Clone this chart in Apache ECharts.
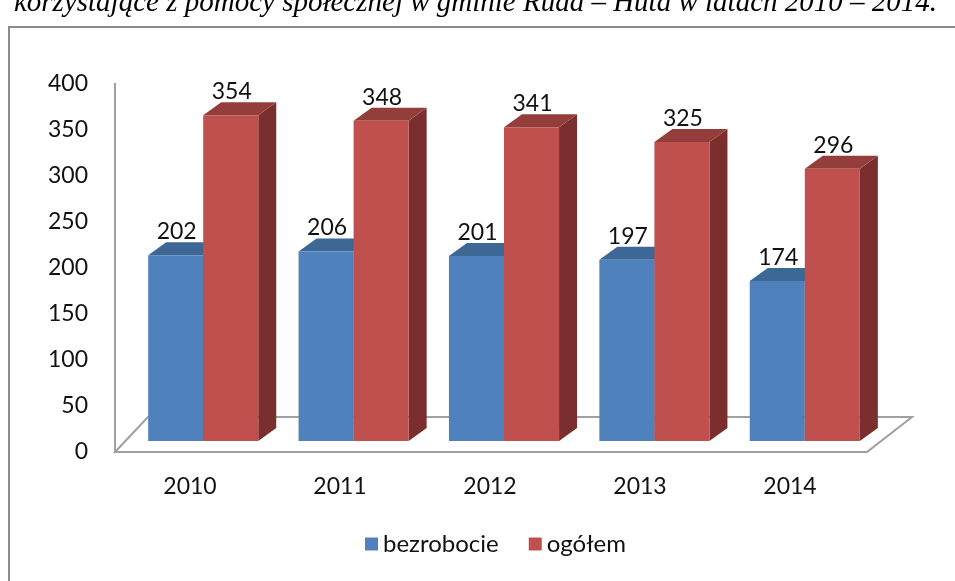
<!DOCTYPE html>
<html>
<head>
<meta charset="utf-8">
<script src="https://cdn.jsdelivr.net/npm/echarts@6/dist/echarts.min.js"></script>
<style>
html,body{margin:0;padding:0;background:#fff;}
#chart{width:955px;height:581px;}
</style>
</head>
<body>
<div id="chart"></div>
<script>
const titleText = 'korzystające z pomocy społecznej w gminie Ruda – Huta w latach 2010 – 2014.';
const categories = ['2010', '2011', '2012', '2013', '2014'];
const seriesNames = ['bezrobocie', 'ogółem'];
const bezrobocie = [202, 206, 201, 197, 174];
const ogolem = [354, 348, 341, 325, 296];
const yMin = 0, yMax = 400, yStep = 50;

const colors = {
  blue: { front: '#4f81bd', top: '#3d6795', side: '#34577f' },
  red: { front: '#c0504d', top: '#943e3b', side: '#7a2f2e' }
};
const DX = 18, DY = -13;
const FONT = 'Lato, "Open Sans", sans-serif';

function barRenderer(which, pal) {
  return function (params, api) {
    const ci = api.value(0), v = api.value(1);
    const topPt = api.coord([ci, v]);
    const basePt = api.coord([ci, 0]);
    const band = api.size([1, 0])[0];
    const w = band * 0.366;
    const x0 = which === 0 ? topPt[0] - w : topPt[0];
    const x1 = x0 + w;
    const yt = topPt[1], yb = basePt[1];
    return {
      type: 'group',
      children: [
        { type: 'polygon', shape: { points: [[x1, yt], [x1 + DX, yt + DY], [x1 + DX, yb + DY], [x1, yb]] }, style: { fill: pal.side } },
        { type: 'polygon', shape: { points: [[x0, yt], [x0 + DX, yt + DY], [x1 + DX, yt + DY], [x1, yt]] }, style: { fill: pal.top } },
        { type: 'rect', shape: { x: x0, y: yt, width: w, height: yb - yt }, style: { fill: pal.front } },
        { type: 'text', x: (x0 + x1) / 2 + 1, y: yt - 12, style: { text: String(v), font: '23px ' + FONT, fill: '#111', align: 'center', verticalAlign: 'bottom' } }
      ]
    };
  };
}

function floorRenderer(params, api) {
  const c0 = api.coord([0, yMin]);
  const cTop = api.coord([0, yMax]);
  const band = api.size([1, 0])[0];
  const left = c0[0] - band / 2;
  const right = left + band * categories.length;
  const y = c0[1];
  const lineStyle = { stroke: '#a0a0a0', lineWidth: 2, fill: null };
  return {
    type: 'group',
    children: [
      { type: 'polygon', shape: { points: [[left, y], [left + 33, y - 35], [right + 47, y - 35], [right + 2, y]] }, style: lineStyle },
      { type: 'line', shape: { x1: left, y1: y, x2: left, y2: cTop[1] - 1 }, style: { stroke: '#a0a0a0', lineWidth: 2 } }
    ]
  };
}

const chart = echarts.init(document.getElementById('chart'), null, { renderer: 'canvas' });
chart.setOption({
  animation: false,
  backgroundColor: '#fff',
  graphic: [
    { type: 'rect', shape: { x: 9, y: 27, width: 1000, height: 600 }, style: { fill: null, stroke: '#8c8c8c', lineWidth: 2 }, z: -10 },
    { type: 'text', x: 937, y: 18, style: { text: titleText, font: 'italic 29px "Liberation Serif", serif', fill: '#000', align: 'right', verticalAlign: 'bottom' } }
  ],
  legend: {
    data: seriesNames,
    bottom: 20,
    left: 360,
    icon: 'rect',
    itemWidth: 13,
    itemHeight: 13,
    itemGap: 30,
    textStyle: { fontFamily: FONT, fontSize: 24, color: '#111' }
  },
  grid: [
    { left: 128, right: 75, top: 73, bottom: 140 },
    { left: 115, right: 90, top: 84, bottom: 129 }
  ],
  xAxis: [
    { type: 'category', gridIndex: 0, data: categories, show: false },
    { type: 'category', gridIndex: 1, data: categories, axisLine: { show: false }, axisTick: { show: false },
      axisLabel: { margin: 23, fontFamily: FONT, fontSize: 23, color: '#111' } }
  ],
  yAxis: [
    { type: 'value', gridIndex: 0, min: yMin, max: yMax, interval: yStep, show: false },
    { type: 'value', gridIndex: 1, min: yMin, max: yMax, interval: yStep, splitLine: { show: false }, axisLine: { show: false }, axisTick: { show: false },
      axisLabel: { margin: 27, fontFamily: FONT, fontSize: 23, color: '#111' } }
  ],
  series: [
    { type: 'custom', name: 'floor', xAxisIndex: 1, yAxisIndex: 1, data: [[0, 0]], renderItem: floorRenderer, silent: true, z: 1 },
    { type: 'custom', name: seriesNames[0], xAxisIndex: 0, yAxisIndex: 0, itemStyle: { color: colors.blue.front },
      data: bezrobocie.map((v, i) => [i, v]), encode: { x: 0, y: 1 }, renderItem: barRenderer(0, colors.blue), z: 2 },
    { type: 'custom', name: seriesNames[1], xAxisIndex: 0, yAxisIndex: 0, itemStyle: { color: colors.red.front },
      data: ogolem.map((v, i) => [i, v]), encode: { x: 0, y: 1 }, renderItem: barRenderer(1, colors.red), z: 3 }
  ]
});
</script>
</body>
</html>
